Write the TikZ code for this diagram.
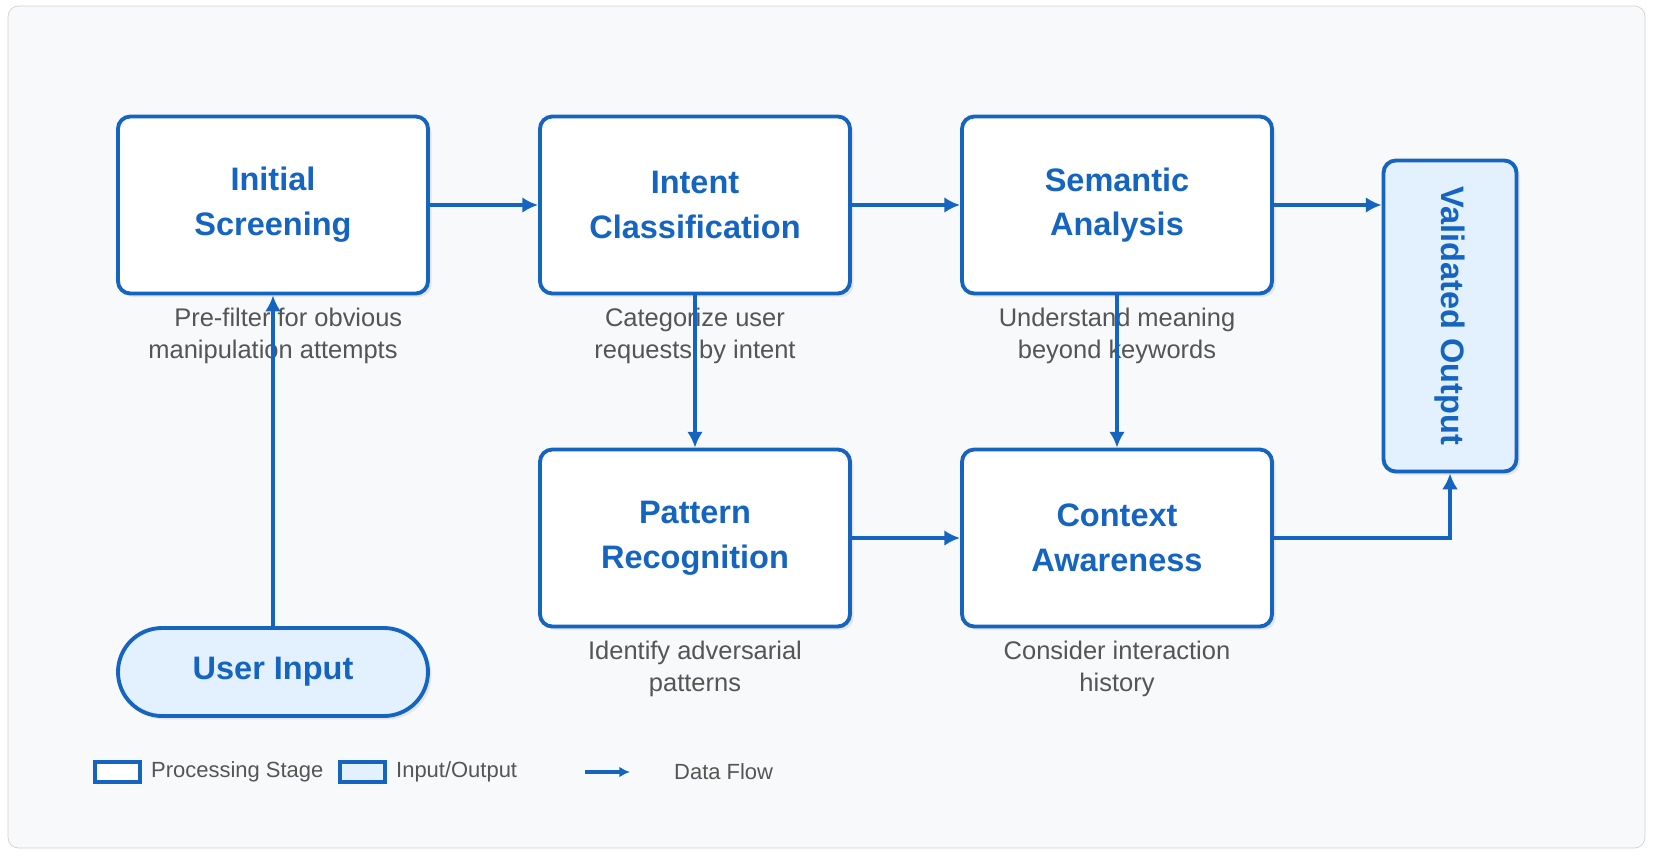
\documentclass[tikz,border=0pt]{standalone}
\usepackage{fontspec}
\setmainfont{Liberation Sans}
\usetikzlibrary{shadows,arrows.meta}
\definecolor{flowblue}{HTML}{1565C0}
\definecolor{iofill}{HTML}{E3F0FD}
\definecolor{descgray}{HTML}{555555}
\definecolor{bggray}{HTML}{F8F9FA}
\tikzset{
  stage/.style={draw=flowblue, line width=2.2pt, rounded corners=7pt, fill=white,
    minimum width=310*0.02cm, minimum height=177*0.02cm, align=center,
    text=flowblue, font=\fontsize{18.5}{25.5}\selectfont\bfseries,
    drop shadow={opacity=0.15, shadow xshift=2pt, shadow yshift=-2pt}},
  io/.style={stage, fill=iofill},
  desc/.style={text=descgray, align=center, font=\fontsize{14.5}{18}\selectfont},
  flow/.style={draw=flowblue, line width=2pt, -{Latex[length=9pt,width=9pt]}},
  legtext/.style={text=descgray, anchor=west, font=\fontsize{12.5}{14}\selectfont}
}
\begin{document}
\begin{tikzpicture}[x=0.02cm,y=-0.02cm]
  \draw[draw=black!18, fill=bggray, rounded corners=6pt] (8,6) rectangle (1645,848);
  % processing stages
  \node[stage] (screen) at (273,205) {Initial\\Screening};
  \node[stage] (intent) at (695,205) {Intent\\Classification};
  \node[stage] (semantic) at (1117,205) {Semantic\\Analysis};
  \node[stage] (pattern) at (695,538) {Pattern\\Recognition};
  \node[stage] (context) at (1117,538) {Context\\Awareness};
  % input and output
  \node[io, rounded corners=44*0.02cm, minimum height=88*0.02cm] (input) at (273,672) {User Input};
  \node[io, minimum width=133*0.02cm, minimum height=311*0.02cm] (output) at (1450,316) {\rotatebox{-90}{Validated Output}};
  % descriptions
  \node[desc] (dscreen) at (273,336) {\hspace*{1.2em}Pre-filter for obvious\\manipulation attempts};
  \node[desc] (dintent) at (695,336) {Categorize user\\requests by intent};
  \node[desc] (dsemantic) at (1117,336) {Understand meaning\\beyond keywords};
  \node[desc] (dpattern) at (695,669) {Identify adversarial\\patterns};
  \node[desc] (dcontext) at (1117,669) {Consider interaction\\history};
  % data flow
  \draw[flow] (input) -- (screen);
  \draw[flow] (screen) -- (intent);
  \draw[flow] (intent) -- (semantic);
  \draw[flow] (semantic.east) -- (semantic.east -| output.west);
  \draw[flow] (intent) -- (pattern);
  \draw[flow] (semantic) -- (context);
  \draw[flow] (pattern) -- (context);
  \draw[flow] (context.east) -| (output.south);
  % legend
  \draw[draw=flowblue, line width=2pt, fill=white] (95,762) rectangle (140,782);
  \node[legtext] (lstage) at (145,772) {Processing Stage};
  \draw[draw=flowblue, line width=2pt, fill=iofill] (340,762) rectangle (385,782);
  \node[legtext] (lio) at (390,772) {Input/Output};
  \coordinate (la) at (585,772);
  \coordinate (lb) at (630,772);
  \draw[flow, -{Latex[length=6pt,width=6pt]}] (la) -- (lb);
  \node[legtext] (lflow) at (668,772) {Data Flow};
  \pgfresetboundingbox
  \useasboundingbox (0,0) rectangle (1653,856);
\end{tikzpicture}
\end{document}
